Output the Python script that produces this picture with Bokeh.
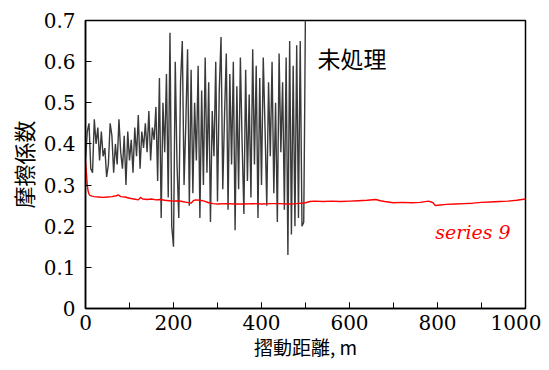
from bokeh.plotting import figure
from bokeh.models import Range1d, SingleIntervalTicker, Label
from bokeh.embed import file_html
from bokeh.resources import INLINE

# untreated (未処理) friction coefficient, 0-500 m
black_x = [0, 4, 8, 12, 16, 20, 24, 28, 32, 36, 40, 44, 48, 52, 56, 60, 64, 68, 72, 76,
           80, 84, 88, 92, 96, 100, 104, 108, 112, 116, 120, 124, 128, 132, 136, 140, 144,
           148, 152, 156, 160, 164, 168, 172, 176, 180, 184, 188, 192, 196, 200, 204, 208,
           212, 216, 220, 224, 228, 232, 236, 240, 244, 248, 252, 256, 260, 264, 268, 272,
           276, 280, 284, 288, 292, 296, 300, 304, 308, 312, 316, 320, 324, 328, 332, 336,
           340, 344, 348, 352, 356, 360, 364, 368, 372, 376, 380, 384, 388, 392, 396, 400,
           404, 408, 412, 416, 420, 424, 428, 432, 436, 440, 444, 448, 452, 456, 460, 464,
           468, 472, 476, 480, 484, 488, 492, 496, 498, 500]
black_y = [0.36, 0.43, 0.45, 0.34, 0.33, 0.46, 0.40, 0.44, 0.36, 0.43, 0.37, 0.39, 0.32,
           0.35, 0.45, 0.42, 0.33, 0.40, 0.35, 0.46, 0.38, 0.34, 0.42, 0.30, 0.43, 0.36,
           0.41, 0.33, 0.44, 0.37, 0.47, 0.34, 0.43, 0.39, 0.45, 0.38, 0.48, 0.36, 0.44,
           0.41, 0.49, 0.31, 0.56, 0.22, 0.50, 0.38, 0.57, 0.27, 0.67, 0.20, 0.15, 0.60,
           0.35, 0.22, 0.55, 0.65, 0.30, 0.45, 0.63, 0.25, 0.58, 0.28, 0.50, 0.36, 0.59,
           0.22, 0.53, 0.30, 0.61, 0.33, 0.55, 0.21, 0.48, 0.37, 0.60, 0.26, 0.53, 0.66,
           0.29, 0.47, 0.62, 0.24, 0.57, 0.35, 0.60, 0.19, 0.54, 0.29, 0.61, 0.40, 0.23,
           0.58, 0.31, 0.52, 0.27, 0.63, 0.35, 0.59, 0.22, 0.56, 0.30, 0.61, 0.44, 0.25,
           0.55, 0.37, 0.60, 0.28, 0.50, 0.21, 0.62, 0.38, 0.55, 0.24, 0.61, 0.13, 0.65,
           0.18, 0.59, 0.20, 0.64, 0.22, 0.65, 0.20, 0.21, 0.46, 0.75]

# series 9 friction coefficient, 0-1000 m
red_x = [0, 2, 4, 6, 8, 10, 15, 20, 30, 40, 50, 60, 70, 75, 80, 90, 100, 110, 120, 125,
         130, 140, 150, 160, 170, 180, 190, 200, 210, 220, 230, 240, 245, 250, 260, 270,
         280, 290, 300, 320, 340, 360, 380, 400, 420, 440, 460, 480, 500, 510, 520, 540,
         560, 580, 600, 620, 640, 660, 670, 680, 700, 720, 740, 760, 780, 790, 795, 800,
         820, 840, 860, 880, 900, 920, 940, 960, 980, 1000]
red_y = [0.36, 0.33, 0.30, 0.285, 0.278, 0.275, 0.273, 0.272, 0.271, 0.270, 0.271, 0.272,
         0.274, 0.276, 0.272, 0.271, 0.268, 0.266, 0.264, 0.270, 0.266, 0.265, 0.266,
         0.264, 0.265, 0.263, 0.262, 0.261, 0.262, 0.260, 0.258, 0.256, 0.262, 0.264,
         0.263, 0.261, 0.257, 0.255, 0.254, 0.255, 0.254, 0.254, 0.255, 0.254, 0.255,
         0.255, 0.254, 0.255, 0.257, 0.260, 0.261, 0.260, 0.261, 0.260, 0.261, 0.262,
         0.263, 0.265, 0.262, 0.260, 0.257, 0.258, 0.257, 0.258, 0.261, 0.257, 0.250,
         0.251, 0.253, 0.254, 0.255, 0.256, 0.258, 0.259, 0.260, 0.261, 0.263, 0.266]

x_title = "摺動距離, m"
y_title = "摩擦係数"

p = figure(width=541, height=362, output_backend="svg", toolbar_location=None,
           x_range=Range1d(0, 1000), y_range=Range1d(0, 0.70001),
           min_border_left=85, min_border_right=16, min_border_top=20, min_border_bottom=54)
p.outline_line_color = "black"
p.outline_line_width = 1.5
p.xgrid.visible = False
p.ygrid.visible = False

p.line(black_x, black_y, line_color="#3a3a3a", line_width=1.4)
p.line(red_x, red_y, line_color="red", line_width=1.4)

serif = "DejaVu Serif"
cjk = "Noto Sans CJK JP"

p.xaxis.ticker = SingleIntervalTicker(interval=200, num_minor_ticks=2)
p.yaxis.ticker = SingleIntervalTicker(interval=0.1, num_minor_ticks=0)
p.yaxis.major_label_overrides = {0: "0"}
for ax in (p.xaxis[0], p.yaxis[0]):
    ax.axis_line_color = "black"
    ax.axis_line_width = 1.5
    ax.major_tick_in = 6
    ax.major_tick_out = 0
    ax.minor_tick_in = 6
    ax.minor_tick_out = 0
    ax.major_label_text_font = serif
    ax.major_label_text_font_size = "20px"
    ax.major_label_text_color = "black"
    ax.axis_label_text_font = cjk
    ax.axis_label_text_font_style = "normal"
    ax.axis_label_text_color = "black"
p.yaxis.axis_label_text_font_size = "22px"
p.xaxis.axis_label_text_font_size = "19px"
p.yaxis.minor_tick_line_color = None
p.yaxis.axis_label = y_title
p.xaxis.axis_label = x_title
p.xaxis.major_label_standoff = 6
p.xaxis.axis_label_standoff = 0
p.yaxis.major_label_standoff = 10
p.yaxis.axis_label_standoff = 2

p.add_layout(Label(x=527, y=0.608, text="未処理", text_font=cjk, text_font_size="23px",
                   text_color="black", text_baseline="middle"))
p.add_layout(Label(x=795, y=0.185, text="series 9", text_font=serif, text_font_size="19px",
                   text_font_style="italic", text_color="red", text_baseline="middle"))

open("out.html", "w").write(file_html(p, INLINE))
